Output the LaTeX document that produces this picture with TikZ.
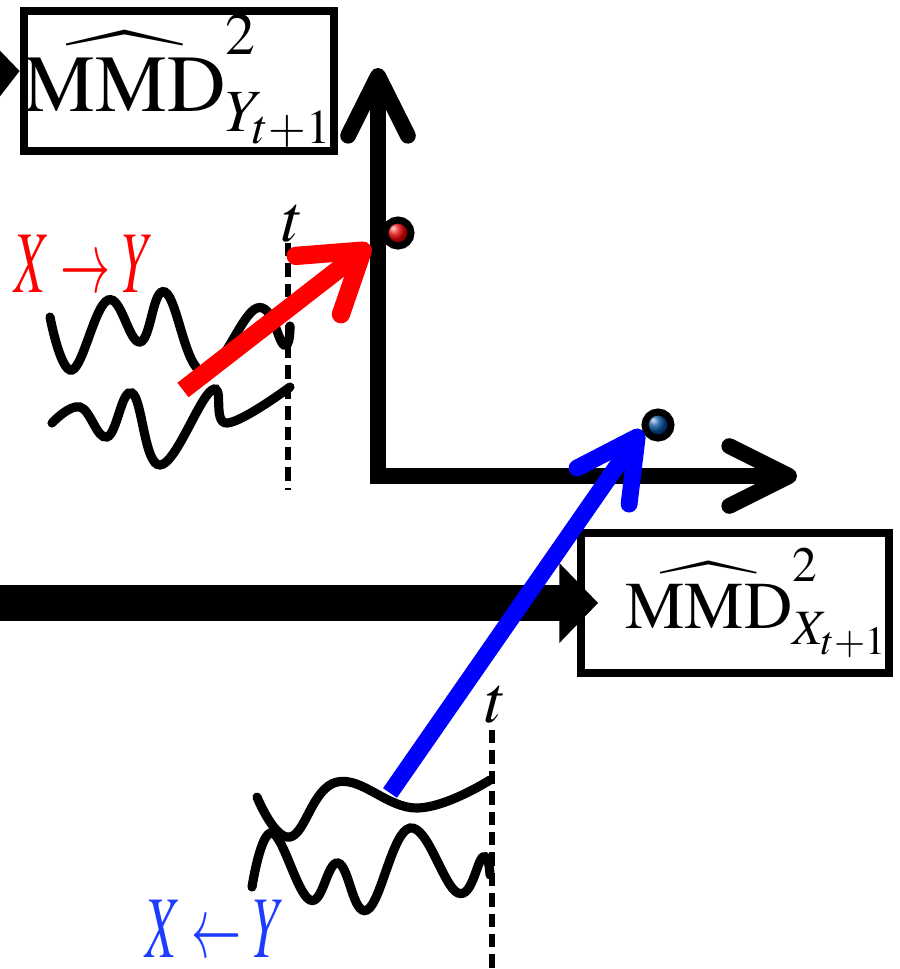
\documentclass[tikz,border=0pt]{standalone}
\usepackage{mathptmx}
\usepackage{xcolor}
\usepackage{tikz}
\usetikzlibrary{arrows.meta}

\definecolor{arrowred}{RGB}{255,0,0}
\definecolor{arrowblue}{RGB}{0,0,255}
\definecolor{textblue}{RGB}{30,60,255}

\begin{document}
\begin{tikzpicture}[
    x=0.01cm, y=-0.01cm,
    mmdbox/.style={rectangle, draw=black, line width=2.3pt, fill=white, minimum width=3.04cm, minimum height=1.4cm, inner sep=0pt},
    axis/.style={line width=4.5pt, {Straight Barb[length=17pt,width=17pt,round]}-{Straight Barb[length=17pt,width=17pt,round]}},
    bigarrow/.style={line width=10.3pt, -{Triangle[length=11pt,width=22pt]}},
    redarrow/.style={line width=5.2pt, arrowred, -{Straight Barb[length=16pt,width=21pt,round]}},
    bluearrow/.style={line width=4.8pt, arrowblue, -{Straight Barb[length=17pt,width=18pt,round]}},
    wave/.style={line width=2.6pt, line cap=round, smooth, tension=0.7},
    tline/.style={line width=1.9pt, dash pattern=on 3.8pt off 2pt},
    tlabel/.style={font=\fontsize{19}{22}\selectfont, inner sep=0pt},
    dirlabel/.style={font=\fontsize{25}{30}\selectfont, inner sep=0pt, xscale=0.57},
    point/.style={circle, draw=black, line width=2pt, minimum size=0.26cm, inner sep=0pt}
]
    \useasboundingbox (0,0) rectangle (899,969);
    \clip (0,0) rectangle (899,969);

    % --- 1. Boxes ---
    \node[mmdbox, font=\fontsize{23}{28}\selectfont] (mmdY) at (179,81)
        {$\widehat{\mathrm{MMD}}^{2}_{Y_{t+1}}$\hspace{0.06cm}};
    \node[mmdbox, font=\fontsize{19}{23}\selectfont] (mmdX) at (735,603)
        {\hspace{0.44cm}$\widehat{\mathrm{MMD}}^{2}_{X_{t+1}}$};

    % --- 2. Axes ---
    \coordinate (origin) at (378,476);
    \coordinate (ytip) at (378,68);
    \coordinate (xtip) at (797,476);
    \draw[axis] (ytip) -- (origin) -- (xtip);

    % --- 3. Thick arrows into the boxes ---
    \coordinate (inY) at (-90,77);
    \coordinate (inX) at (-30,603);
    \draw[line width=10.3pt, -{Triangle[length=12pt,width=27pt]}] (inY) -- ([yshift=1mm]mmdY.west);
    \draw[bigarrow] (inX) -- ([xshift=2.1mm]mmdX.west);

    % --- 4. Blue arrow (X <- Y) ---
    \coordinate (bluefrom) at (390,793);
    \coordinate (blueto) at (642,430);
    \draw[bluearrow] (bluefrom) -- (blueto);

    % --- 5. Upper series ---
    \draw[tline] (288,243) -- (288,490);
    \node[tlabel] (tup) at (293,224) {$t$};
    \draw[wave] plot coordinates {(50,317) (72,370) (108,300) (140,342) (165,292)
        (203,372) (257,308) (284,345) (290,326)};
    \draw[wave] plot coordinates {(52,423) (80,407) (107,437) (132,393) (160,465)
        (212,390) (227,423) (290,387)};
    \node[dirlabel, arrowred] (xtoy) at (84,264) {$X \rightarrow Y$};

    % --- 6. Red arrow (X -> Y) ---
    \coordinate (redfrom) at (183,390);
    \coordinate (redto) at (370,245);
    \draw[redarrow] (redfrom) -- (redto);

    % --- 7. Lower series ---
    \draw[tline] (492,730) -- (492,975);
    \node[tlabel] (tdown) at (496,705) {$t$};
    \draw[wave] plot coordinates {(257,797) (290,837) (337,782) (417,808) (490,780)};
    \draw[wave] plot coordinates {(252,887) (272,833) (310,900) (338,863) (367,910)
        (410,828) (458,893) (483,857) (490,875)};
    \node[dirlabel, textblue] (ytox) at (215,929) {$X \leftarrow Y$};

    % --- 8. Points ---
    \node[point, ball color=red!90!black] (pred) at (398,233) {};
    \node[point, ball color=blue!50!cyan!60!black] (pblue) at (658,425) {};

\end{tikzpicture}
\end{document}
